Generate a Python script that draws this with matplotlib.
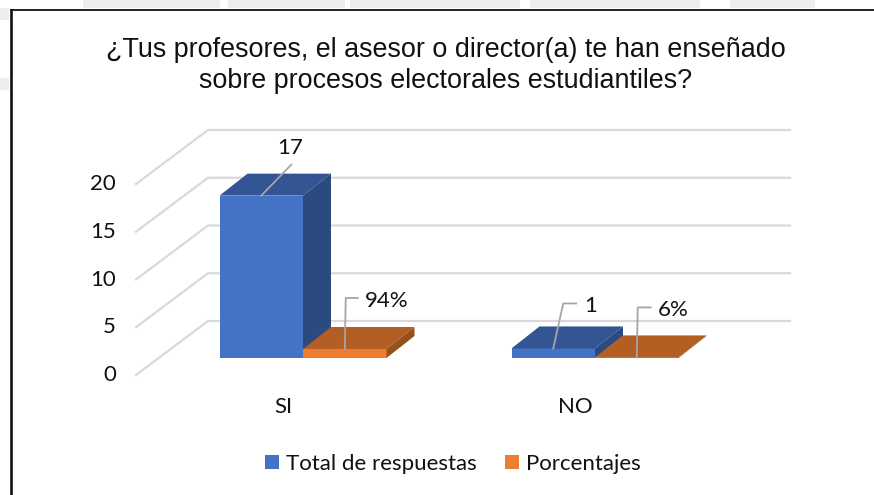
import matplotlib
matplotlib.use("Agg")
from matplotlib import pyplot as plt
from matplotlib.lines import Line2D
from matplotlib.patches import Polygon, Rectangle

categories = ["SI", "NO"]
series_names = ["Total de respuestas", "Porcentajes"]
total_respuestas = [17, 1]
porcentajes = [0.94, 0.06]
porcentaje_labels = ["94%", "6%"]
y_ticks = [0, 5, 10, 15, 20]

W, H = 874, 495

# front plane of the fake 3d chart: pixels per unit on each axis
base_px, group_0_px = 358, 303
px_x, px_y = 292, 9.55
bar_w = 83.5 / px_x
depth_x, depth_y = 28 / px_x, 22 / px_y

# walls of the 3d box
wall_front_x, wall_back_x, wall_right_x = (136 - group_0_px) / px_x, (208 - group_0_px) / px_x, (790 - group_0_px) / px_x
wall_front_y, wall_back_y = (base_px - 375) / px_y, (base_px - 321) / px_y

fig = plt.figure(figsize=(W / 100, H / 100), dpi=100)
ax = fig.add_axes([0, 0, 1, 1])
ax.set_xlim(-group_0_px / px_x, (W - group_0_px) / px_x)
ax.set_ylim((base_px - H) / px_y, base_px / px_y)
ax.axis("off")

# watermark bits showing around the border
for x0, y0, w, h in [(83, 0, 137, 8), (228, 0, 117, 8), (350, 0, 170, 8), (530, 0, 170, 8),
                     (730, 0, 85, 8), (0, 8, 9, 12), (0, 78, 9, 12)]:
    fig.add_artist(Rectangle((x0 / W, 1 - (y0 + h) / H), w / W, h / H, color="#eeeeee", lw=0))

# border, only top and left
fig.add_artist(Line2D([11 / W, 1], [1 - 10 / H, 1 - 10 / H], color="#111111", lw=1.3))
fig.add_artist(Line2D([11 / W, 11 / W], [0, 1 - 10 / H], color="#111111", lw=1.9))

# gridlines: along the side wall then along the back wall
for v in y_ticks:
    ax.plot([wall_front_x, wall_back_x, wall_right_x],
            [wall_front_y + v, wall_back_y + v, wall_back_y + v],
            color="#d9d9d9", lw=1.6, zorder=1, solid_joinstyle="miter")
    ax.text(wall_front_x - 20 / px_x, wall_front_y + v, str(v),
            ha="right", va="center", fontsize=16, family="Lato", color="#111111")


def draw_bar(x, value, front, top, side, zorder, label=None):
    bars = ax.bar(x, value, width=bar_w, color=front, zorder=zorder, label=label)
    x0, x1 = x - bar_w / 2, x + bar_w / 2
    ax.add_patch(Polygon([(x0, value), (x1, value), (x1 + depth_x, value + depth_y), (x0 + depth_x, value + depth_y)],
                         closed=True, color=top, lw=0, zorder=zorder))
    ax.add_patch(Polygon([(x1, 0), (x1, value), (x1 + depth_x, value + depth_y), (x1 + depth_x, depth_y)],
                         closed=True, color=side, lw=0, zorder=zorder))
    return bars


def leader(x, value, offsets, text, text_offset):
    xs = [x] + [x + dx / px_x for dx, dy in offsets]
    ys = [value] + [value + dy / px_y for dx, dy in offsets]
    ax.plot(xs, ys, color="#a6a6a6", lw=1.3, zorder=6)
    ax.text(x + text_offset[0] / px_x, value + text_offset[1] / px_y, text,
            ha="center", va="center", fontsize=16, family="Lato", color="#111111", zorder=7)


for i, cat in enumerate(categories):
    x_blue = i - bar_w / 2
    x_orange = i + bar_w / 2
    draw_bar(x_blue, total_respuestas[i], "#4472c4", "#335593", "#2b4a80", 3,
             series_names[0] if i == 0 else None)
    draw_bar(x_orange, porcentajes[i], "#ed7d31", "#b35e22", "#96501c", 4,
             series_names[1] if i == 0 else None)
    ax.text(i - 20 / px_x, -49 / px_y, cat, ha="center", va="center",
            fontsize=16, family="Lato", color="#111111")

# data labels with their leader lines
leader(-bar_w / 2, total_respuestas[0], [(30, 31)], str(total_respuestas[0]), (29, 48))
leader(bar_w / 2, porcentajes[0], [(1, 51), (13, 51)], porcentaje_labels[0], (42, 48))
leader(1 - bar_w / 2, total_respuestas[1], [(10, 45), (23, 45)], str(total_respuestas[1]), (37, 42))
leader(1 + bar_w / 2, porcentajes[1], [(1, 50), (14, 50)], porcentaje_labels[1], (36, 47))

fig.text(446 / W, 1 - 65.5 / H, "¿Tus profesores, el asesor o director(a) te han enseñado\nsobre procesos electorales estudiantiles?",
         ha="center", va="center", fontsize=19.35, family="Liberation Sans", color="#111111", linespacing=1.25)

ax.legend(loc="center", bbox_to_anchor=(453 / W, 1 - 464 / H), bbox_transform=fig.transFigure, ncols=2,
          frameon=False, prop={"family": "Lato", "size": 16}, handlelength=0.63, handleheight=0.63,
          handletextpad=0.3, columnspacing=1.3, labelcolor="#111111")

fig.savefig("out.png", dpi=100)
